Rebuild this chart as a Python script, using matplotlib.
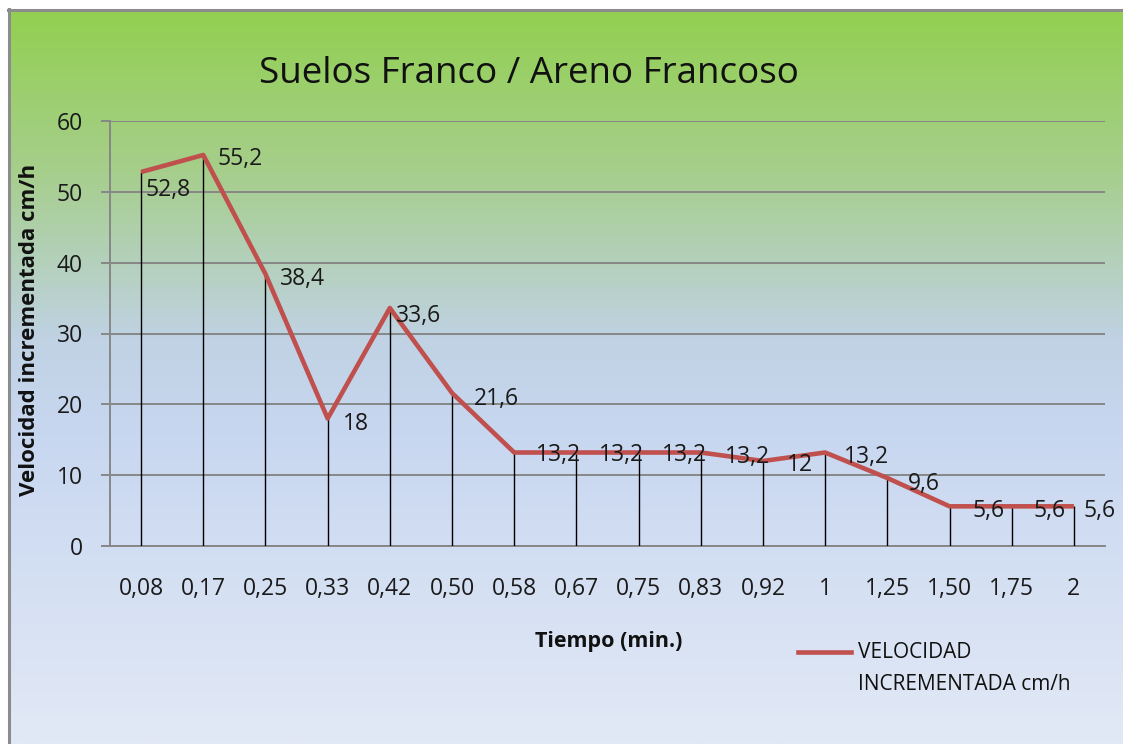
import numpy as np
import matplotlib
matplotlib.use("Agg")
import matplotlib.pyplot as plt
from matplotlib.colors import LinearSegmentedColormap
from matplotlib.lines import Line2D

plt.rcParams['font.family'] = ['Open Sans', 'DejaVu Sans']

tiempo = ["0,08", "0,17", "0,25", "0,33", "0,42", "0,50", "0,58", "0,67",
          "0,75", "0,83", "0,92", "1", "1,25", "1,50", "1,75", "2"]
velocidad = [52.8, 55.2, 38.4, 18, 33.6, 21.6, 13.2, 13.2,
             13.2, 13.2, 12, 13.2, 9.6, 5.6, 5.6, 5.6]
y_ticks = [0, 10, 20, 30, 40, 50, 60]

# label placement relative to each point, in pixels (right, down)
label_shift_px = [(4, 16), (14, 2), (14, 3), (15, 4), (6, 6), (22, 4),
                  (22, 1), (23, 1), (23, 1), (24, 2), (24, 2), (19, 2),
                  (21, 4), (23, 3), (22, 3), (10, 3)]

W, H = 1123, 744
fig = plt.figure(figsize=(W / 100, H / 100), dpi=100)
fig.patch.set_facecolor("white")

# chart-area background with vertical gradient (green top -> pale blue bottom)
bx0, by1 = 8 / W, 1 - 9 / H
bg = fig.add_axes([bx0, 0, 1 - bx0, by1])
bg.set_axis_off()
stops = [(0.0, (146/255, 208/255, 80/255)),
         (0.22, (166/255, 206/255, 140/255)),
         (0.45, (192/255, 210/255, 228/255)),
         (0.58, (200/255, 215/255, 240/255)),
         (1.0, (226/255, 233/255, 246/255))]
cmap = LinearSegmentedColormap.from_list("bgfill", stops)
grad = np.linspace(0, 1, 512).reshape(-1, 1)
bg.imshow(grad, aspect="auto", cmap=cmap, extent=[0, 1, 0, 1], origin="upper")
bg.set_xlim(0, 1)
bg.set_ylim(0, 1)
bg.plot([0.001, 0.001], [0, 1], color="#8c8c8c", lw=2.2, clip_on=False)
bg.plot([0, 1], [0.998, 0.998], color="#8c8c8c", lw=2.2, clip_on=False)

# plotting area
ax = fig.add_axes([110 / W, 1 - 546 / H, (1105 - 110) / W, (546 - 121) / H])
ax.set_facecolor("none")
x = np.arange(len(tiempo))
ax.set_xlim(-0.5, len(tiempo) - 0.5)
ax.set_ylim(0, 60)
ax.set_yticks(y_ticks)
ax.set_xticks(x)
ax.set_xticklabels(tiempo)
ax.grid(axis="y", color="#878787", lw=1.4)
ax.set_axisbelow(True)
for s in ["top", "right"]:
    ax.spines[s].set_visible(False)
for s in ["left", "bottom"]:
    ax.spines[s].set_color("#878787")
    ax.spines[s].set_linewidth(1.4)
ax.tick_params(axis="y", length=6.5, width=1.4, color="#878787", labelsize=16.5,
               labelcolor="#1a1a1a", pad=13)
ax.tick_params(axis="x", length=0, labelsize=16.5, labelcolor="#1a1a1a", pad=22)

# drop lines from each point to the axis
ax.vlines(x, 0, velocidad, colors="black", lw=1.0, zorder=3)
ax.plot(x, velocidad, color="#C0504D", lw=3.3, zorder=4, solid_capstyle="butt")

# value labels
px2pt = 72 / 100
for i, v in enumerate(velocidad):
    sx, sy = label_shift_px[i]
    lbl = f"{v:g}".replace(".", ",")
    ax.annotate(lbl, (x[i], v), xytext=(sx * px2pt, -(sy + 2) * px2pt),
                textcoords="offset points", ha="left", va="center",
                fontsize=16.5, color="#1a1a1a", zorder=5)

fig.text(529 / W, 1 - 74 / H, "Suelos Franco / Areno Francoso",
         ha="center", va="center", fontsize=26.5, color="#111111")
fig.text(30 / W, 1 - 330 / H, "Velocidad incrementada cm/h", rotation=90,
         ha="center", va="center", fontsize=16, fontweight="bold", color="#111111")
fig.text(609 / W, 1 - 641 / H, "Tiempo (min.)", ha="center", va="center",
         fontsize=15.5, fontweight="bold", color="#111111")

# legend
fig.add_artist(Line2D([798 / W, 851 / W], [1 - 652 / H, 1 - 652 / H],
                      color="#C0504D", lw=3.3, transform=fig.transFigure))
fig.text(858 / W, 1 - 652 / H, "VELOCIDAD", ha="left", va="center",
         fontsize=15, color="#111111")
fig.text(858 / W, 1 - 684 / H, "INCREMENTADA cm/h", ha="left", va="center",
         fontsize=15, color="#111111")

fig.savefig("out.png", dpi=100)
